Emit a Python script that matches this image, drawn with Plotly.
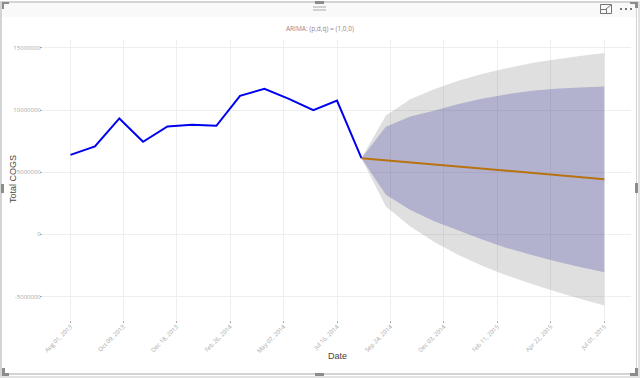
import plotly.graph_objects as go

W, H = 640, 378

history_dates = ["2013-08-01", "2013-09-02", "2013-10-04", "2013-11-04", "2013-12-06", "2014-01-07",
                 "2014-02-08", "2014-03-11", "2014-04-12", "2014-05-14", "2014-06-15", "2014-07-16",
                 "2014-08-17"]
history_values = [6400000, 7070000, 9330000, 7450000, 8680000, 8820000, 8740000, 11150000, 11720000,
                  10900000, 10000000, 10770000, 6130000]

forecast_dates = ["2014-08-17", "2014-09-18", "2014-10-20", "2014-11-21", "2014-12-22", "2015-01-23",
                  "2015-02-24", "2015-03-28", "2015-04-28", "2015-05-30", "2015-07-01"]
forecast_mean = [6130000, 5960000, 5790000, 5620000, 5450000, 5280000, 5110000, 4940000, 4770000, 4600000, 4440000]
upper_95 = [6130000, 9570000, 10880000, 11690000, 12360000, 12920000, 13380000, 13780000, 14080000, 14350000, 14590000]
lower_95 = [6130000, 2240000, 630000, -630000, -1650000, -2540000, -3320000, -3990000, -4600000, -5190000, -5730000]
upper_80 = [6130000, 8650000, 9490000, 9970000, 10500000, 10930000, 11280000, 11550000, 11710000, 11820000, 11900000]
lower_80 = [6130000, 3180000, 1970000, 1030000, 310000, -440000, -1110000, -1650000, -2160000, -2620000, -3050000]

tick_dates = ["2013-08-01", "2013-10-09", "2013-12-18", "2014-02-26", "2014-05-07", "2014-07-16",
              "2014-09-24", "2014-12-03", "2015-02-11", "2015-04-22", "2015-07-01"]
tick_labels = ["Aug 01, 2013", "Oct 09, 2013", "Dec 18, 2013", "Feb 26, 2014", "May 07, 2014", "Jul 16, 2014",
               "Sep 24, 2014", "Dec 03, 2014", "Feb 11, 2015", "Apr 22, 2015", "Jul 01, 2015"]
y_ticks = [-5000000, 0, 5000000, 10000000, 15000000]
y_labels = ["-5000000", "0", "5000000", "10000000", "15000000"]

fig = go.Figure()
fig.add_trace(go.Scatter(x=forecast_dates + forecast_dates[::-1], y=upper_95 + lower_95[::-1], fill="toself",
                         fillcolor="rgba(128,128,128,0.25)", mode="none", showlegend=False))
fig.add_trace(go.Scatter(x=forecast_dates + forecast_dates[::-1], y=upper_80 + lower_80[::-1], fill="toself",
                         fillcolor="rgba(0,0,139,0.2)", mode="none", showlegend=False))
fig.add_trace(go.Scatter(x=history_dates, y=history_values, mode="lines",
                         line=dict(color="#0000f0", width=2), showlegend=False))
fig.add_trace(go.Scatter(x=forecast_dates, y=forecast_mean, mode="lines",
                         line=dict(color="#b8720f", width=2), showlegend=False))


def px(x0, y0, x1, y1):
    return dict(xref="paper", yref="paper", x0=x0 / W, x1=x1 / W, y0=1 - y0 / H, y1=1 - y1 / H, layer="above")


def bar(x0, y0, x1, y1, color):
    return dict(type="rect", fillcolor=color, line_width=0, **px(x0, y0, x1, y1))


FRAME = "#d4d4d4"
HANDLE = "#8c8c8c"
ICON = "#757575"

shapes = [
    bar(3, 3, 636, 17, "#f9f9f9"),
    # frame
    bar(0, 1, 640, 3, FRAME),
    bar(0, 1, 2, 378, FRAME),
    bar(636, 1, 637, 375, FRAME),
    bar(638, 1, 640, 378, "#e2e2e2"),
    bar(2, 373, 637, 375, FRAME),
    bar(0, 376, 640, 378, "#e2e2e2"),
    # corner handles
    bar(2, 2, 9, 4, HANDLE), bar(2, 2, 4, 9, HANDLE),
    bar(630, 2, 638, 4, HANDLE), bar(635, 2, 638, 8, HANDLE),
    bar(2, 373, 9, 376, HANDLE), bar(2, 368, 5, 376, HANDLE),
    bar(630, 373, 638, 376, HANDLE), bar(635, 368, 638, 376, HANDLE),
    # side handles
    bar(315, 1, 324, 4, HANDLE),
    bar(315, 373, 324, 376, HANDLE),
    bar(1, 184, 4, 193, HANDLE),
    bar(635, 183, 638, 193, HANDLE),
    # drag grip
    bar(313, 6.5, 326, 7.5, "#a8a8a8"),
    bar(313, 9.5, 326, 10.5, "#a8a8a8"),
    # focus icon
    dict(type="rect", fillcolor="rgba(0,0,0,0)", line=dict(color=ICON, width=1), **px(600.5, 4.5, 611.5, 13.5)),
    dict(type="rect", fillcolor="#fafafa", line=dict(color=ICON, width=1), **px(600.5, 9.5, 606.5, 13.5)),
    dict(type="line", line=dict(color=ICON, width=1), **px(606, 9, 611, 5)),
    # more dots
    bar(620, 8, 622, 10, ICON),
    bar(625, 8, 627, 10, ICON),
    bar(630, 8, 632, 10, ICON),
]

fig.update_layout(
    width=W, height=H,
    margin=dict(l=0, r=0, t=0, b=0),
    paper_bgcolor="white", plot_bgcolor="white",
    font=dict(family="Open Sans, DejaVu Sans, sans-serif"),
    shapes=shapes,
    annotations=[
        dict(text="ARIMA: (p,d,q) = (1,0,0)", xref="paper", yref="paper", x=319.5 / W, y=1 - 28.5 / H,
             showarrow=False, font=dict(size=6.5, color="#a07f8c"), xanchor="center", yanchor="middle"),
        dict(text="Total COGS", xref="paper", yref="paper", x=12.5 / W, y=1 - 179.5 / H, textangle=-90,
             showarrow=False, font=dict(size=9, family="Liberation Sans", color="#444444"),
             xanchor="center", yanchor="middle"),
        dict(text="Date", xref="paper", yref="paper", x=337.5 / W, y=1 - 356 / H,
             showarrow=False, font=dict(size=9, family="Liberation Sans", color="#444444"),
             xanchor="center", yanchor="middle"),
    ],
    xaxis=dict(domain=[43 / W, 631 / W], type="date", range=["2013-06-26", "2015-08-05"],
               tickmode="array", tickvals=tick_dates, ticktext=tick_labels, tickangle=-45,
               tickfont=dict(size=6, color="#a8a8a8"), showgrid=True, gridcolor="#eeeeee", gridwidth=1,
               zeroline=False, ticks="outside", ticklen=2, tickcolor="#aaaaaa", showline=False,
               ticklabelstandoff=-2),
    yaxis=dict(domain=[1 - 320 / H, 1 - 40 / H], range=[-6890000, 15640000],
               tickmode="array", tickvals=y_ticks, ticktext=y_labels,
               tickfont=dict(size=6, color="#a8a8a8"), showgrid=True, gridcolor="#eeeeee", gridwidth=1,
               zeroline=False, ticks="outside", ticklen=2, tickcolor="#aaaaaa", showline=False,
               ticklabelstandoff=-2),
)

fig.write_html("out.html", config={"displayModeBar": False},
               post_script="document.body.style.margin='0';document.body.style.overflow='hidden';")
